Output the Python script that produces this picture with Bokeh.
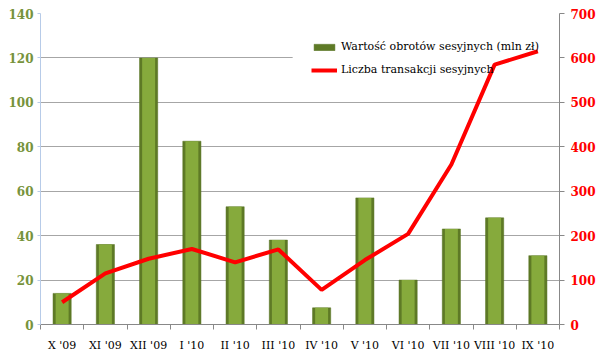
from bokeh.plotting import figure
from bokeh.models import (Range1d, LinearAxis, FixedTicker, ColumnDataSource,
                          Legend, LegendItem, BoxAnnotation)
from bokeh.embed import file_html
from bokeh.resources import INLINE

months = ["X '09", "XI '09", "XII '09", "I '10", "II '10", "III '10",
          "IV '10", "V '10", "VI '10", "VII '10", "VIII '10", "IX '10"]
turnover = [14, 36, 120, 82.5, 53, 38, 7.5, 57, 20, 43, 48, 31]
transactions = [50, 115, 148, 170, 140, 169, 78, 145, 204, 360, 585, 615]
left_ticks = [0, 20, 40, 60, 80, 100, 120, 140]
right_ticks = [0, 100, 200, 300, 400, 500, 600, 700]

xs = [i + 0.5 for i in range(len(months))]
src = ColumnDataSource(dict(x=xs, turnover=turnover, trans=transactions))

FONT = "DejaVu Serif"

p = figure(width=600, height=360, output_backend="svg", toolbar_location=None,
           x_range=Range1d(0, len(months)), y_range=Range1d(0, 140),
           min_border_left=40, min_border_right=41, min_border_top=13,
           min_border_bottom=36)
p.outline_line_color = None
p.background_fill_color = "white"
p.extra_y_ranges = {"tr": Range1d(0, 700)}

# white panel behind the legend (hides the grid line there)
panel = BoxAnnotation(left=5.83, right=12, bottom=105, top=137,
                      fill_color="white", fill_alpha=1, line_color=None,
                      level="underlay")
p.add_layout(panel)

# bars: dark edge + lighter inner
r_bar = p.vbar(x="x", top="turnover", width=0.42, source=src,
               fill_color="#5e7a26", line_color="#55701f", line_width=0.5)
p.vbar(x="x", top="turnover", width=0.30, source=src,
       fill_color="#86aa3c", line_color=None)

r_line = p.line(x="x", y="trans", source=src, y_range_name="tr",
                line_color="#ff0000", line_width=4)

# x axis
xa = p.xaxis[0]
xa.ticker = FixedTicker(ticks=xs, minor_ticks=list(range(len(months) + 1)))
xa.major_label_overrides = {x: m for x, m in zip(xs, months)}
xa.major_tick_out = 0
xa.major_tick_in = 0
xa.minor_tick_out = 5
xa.minor_tick_in = 0
xa.minor_tick_line_color = "#888888"
xa.axis_line_color = "#888888"
xa.major_label_text_font = FONT
xa.major_label_text_font_size = "11px"
xa.major_label_text_color = "black"
xa.major_label_standoff = 9

# left axis
ya = p.yaxis[0]
ya.ticker = FixedTicker(ticks=left_ticks)
ya.axis_line_color = "#b7cbe8"
ya.major_tick_line_color = "#b7cbe8"
ya.major_tick_out = 3
ya.major_tick_in = 0
ya.minor_tick_line_color = None
ya.major_label_text_font = FONT
ya.major_label_text_font_style = "bold"
ya.major_label_text_font_size = "12px"
ya.major_label_text_color = "#77933c"
ya.major_label_standoff = 4

# right axis
ra = LinearAxis(y_range_name="tr", ticker=FixedTicker(ticks=right_ticks))
ra.axis_line_color = "#888888"
ra.major_tick_line_color = "#888888"
ra.major_tick_out = 5
ra.major_tick_in = 0
ra.minor_tick_line_color = None
ra.major_label_text_font = FONT
ra.major_label_text_font_style = "bold"
ra.major_label_text_font_size = "12px"
ra.major_label_text_color = "#ff0000"
ra.major_label_standoff = 6
p.add_layout(ra, "right")

p.xgrid.grid_line_color = None
p.ygrid.grid_line_color = "#a6a6a6"
p.ygrid.ticker = FixedTicker(ticks=left_ticks)

legend = Legend(items=[
    LegendItem(label="Wartość obrotów sesyjnych (mln zł)", renderers=[r_bar]),
    LegendItem(label="Liczba transakcji sesyjnych", renderers=[r_line]),
], location=(271, 248))
legend.background_fill_alpha = 0
legend.border_line_color = None
legend.label_text_font = FONT
legend.label_text_font_size = "11px"
legend.label_text_color = "black"
legend.glyph_width = 26
legend.glyph_height = 8
legend.spacing = 10
legend.padding = 14
legend.label_standoff = 4
legend.margin = 0
p.add_layout(legend, "center")

open("out.html", "w").write(file_html(p, INLINE))
